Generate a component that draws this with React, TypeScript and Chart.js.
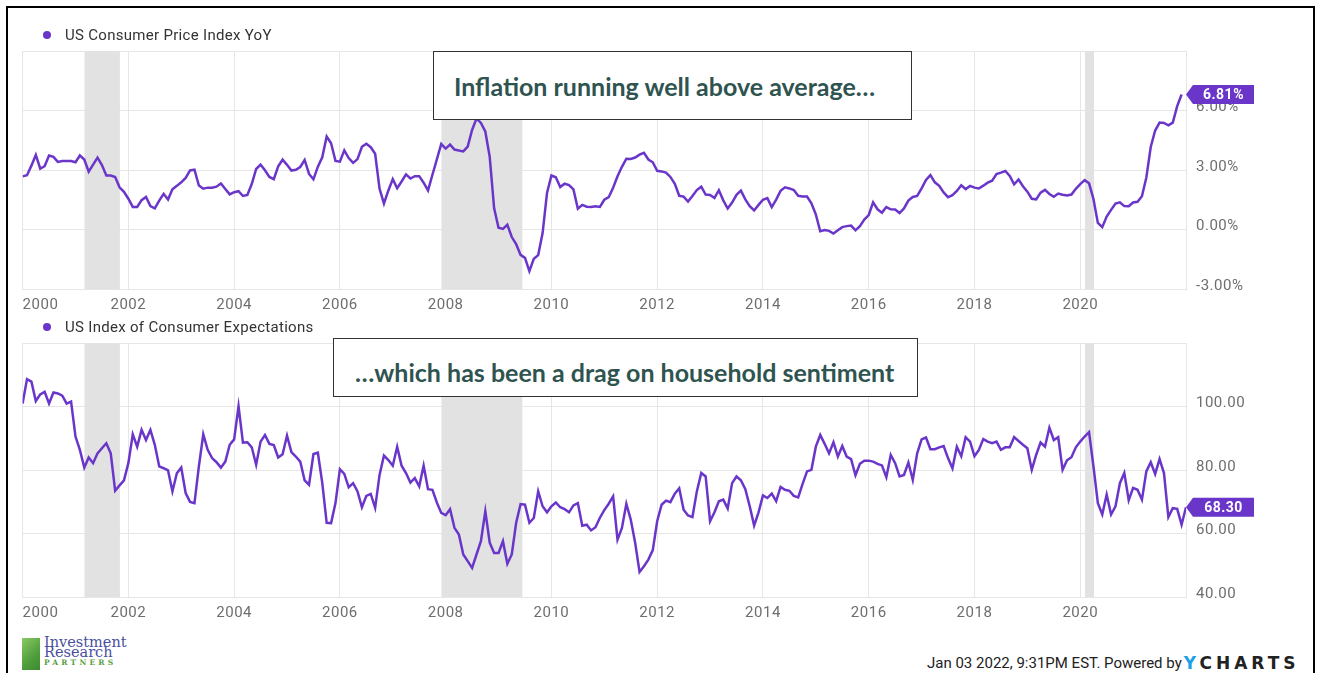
import React, { useEffect, useRef } from 'react';
import { Chart, registerables } from 'chart.js';
Chart.register(...registerables);

// Monthly month-end observations, first point = Dec 31 1999 (x = 2000.0)
const FIRST_POINT_YEAR = 2000;
const X_MIN = 2000;
const X_MAX = 2022;
const X_TICKS = [2000, 2002, 2004, 2006, 2008, 2010, 2012, 2014, 2016, 2018, 2020, 2022];

// US Consumer Price Index YoY (%), Dec 1999 .. Nov 2021
const cpiYoY = [
  2.68,
  2.74, 3.22, 3.76, 3.07, 3.19, 3.73, 3.66, 3.41, 3.45, 3.45, 3.45, 3.39,
  3.73, 3.53, 2.92, 3.27, 3.62, 3.25, 2.72, 2.72, 2.65, 2.13, 1.90, 1.55,
  1.14, 1.14, 1.48, 1.64, 1.18, 1.07, 1.46, 1.80, 1.51, 2.03, 2.20, 2.38,
  2.60, 2.98, 3.02, 2.22, 2.06, 2.11, 2.11, 2.16, 2.32, 2.04, 1.77, 1.88,
  1.93, 1.69, 1.74, 2.29, 3.05, 3.27, 2.99, 2.65, 2.54, 3.19, 3.52, 3.26,
  2.97, 3.01, 3.15, 3.51, 2.80, 2.53, 3.17, 3.64, 4.69, 4.35, 3.46, 3.42,
  3.99, 3.60, 3.36, 3.55, 4.17, 4.32, 4.15, 3.82, 2.06, 1.31, 1.97, 2.54,
  2.08, 2.42, 2.78, 2.57, 2.69, 2.69, 2.36, 1.97, 2.76, 3.54, 4.31, 4.08,
  4.28, 4.03, 3.98, 3.94, 4.18, 5.02, 5.60, 5.37, 4.94, 3.66, 1.07, 0.09,
  0.03, 0.24, -0.38, -0.74, -1.28, -1.43, -2.10, -1.48, -1.29, -0.18, 1.84, 2.72,
  2.63, 2.14, 2.31, 2.24, 2.02, 1.05, 1.24, 1.15, 1.14, 1.17, 1.14, 1.50,
  1.63, 2.11, 2.68, 3.16, 3.57, 3.56, 3.63, 3.77, 3.87, 3.53, 3.39, 2.96,
  2.93, 2.87, 2.65, 2.30, 1.70, 1.66, 1.41, 1.69, 1.99, 2.16, 1.76, 1.74,
  1.59, 1.98, 1.47, 1.06, 1.36, 1.75, 1.96, 1.52, 1.18, 0.96, 1.24, 1.50,
  1.58, 1.13, 1.51, 1.95, 2.13, 2.07, 1.99, 1.70, 1.66, 1.66, 1.32, 0.76,
  -0.09, -0.03, -0.07, -0.20, -0.04, 0.12, 0.17, 0.20, -0.04, 0.17, 0.50, 0.73,
  1.37, 1.02, 0.85, 1.13, 1.02, 1.01, 0.83, 1.06, 1.46, 1.64, 1.69, 2.07,
  2.50, 2.74, 2.38, 2.20, 1.87, 1.63, 1.73, 1.94, 2.23, 2.04, 2.20, 2.11,
  2.07, 2.21, 2.36, 2.46, 2.80, 2.87, 2.95, 2.70, 2.28, 2.52, 2.18, 1.91,
  1.55, 1.52, 1.86, 2.00, 1.79, 1.65, 1.81, 1.75, 1.71, 1.76, 2.05, 2.29,
  2.49, 2.33, 1.54, 0.33, 0.12, 0.65, 0.99, 1.31, 1.37, 1.18, 1.17, 1.36,
  1.40, 1.68, 2.62, 4.16, 4.99, 5.39, 5.37, 5.25, 5.39, 6.22, 6.81,
];

// US Index of Consumer Expectations, Dec 1999 .. Dec 2021
const consumerExpectations = [
  101.0,
  108.7, 107.9, 101.8, 103.9, 104.7, 101.0, 104.5, 104.2, 103.5, 101.0, 101.6, 90.6,
  86.4, 80.8, 84.0, 82.2, 85.3, 86.9, 88.5, 85.3, 73.5, 75.2, 76.8, 82.2,
  91.3, 87.4, 92.7, 89.5, 92.7, 88.0, 81.2, 80.6, 79.9, 73.3, 79.0, 80.8,
  72.8, 70.0, 69.6, 81.2, 91.3, 86.4, 83.8, 82.5, 80.8, 82.7, 88.0, 89.7,
  100.2, 88.7, 88.8, 87.2, 81.7, 89.0, 91.1, 88.3, 87.9, 84.0, 85.0, 90.9,
  85.7, 84.3, 82.7, 76.8, 75.4, 85.1, 85.5, 76.0, 63.4, 63.3, 69.6, 80.3,
  78.8, 74.6, 75.9, 73.3, 68.3, 71.9, 72.5, 68.1, 78.5, 84.6, 83.2, 81.4,
  87.4, 81.4, 79.1, 76.1, 77.5, 74.9, 81.4, 74.0, 73.8, 69.8, 66.5, 65.8,
  67.7, 61.8, 59.7, 53.4, 51.3, 49.2, 53.4, 57.6, 67.0, 57.1, 53.9, 53.9,
  57.6, 50.5, 53.4, 63.4, 69.3, 69.1, 63.4, 64.9, 73.3, 68.6, 66.7, 68.6,
  69.8, 68.3, 67.7, 66.7, 68.9, 69.6, 62.5, 62.8, 61.0, 62.0, 65.0, 67.4,
  69.4, 71.7, 58.1, 61.8, 69.4, 64.4, 57.1, 47.9, 49.7, 51.8, 54.8, 63.9,
  69.1, 70.4, 69.9, 72.6, 74.3, 67.5, 65.7, 65.2, 73.3, 79.1, 78.0, 63.9,
  66.7, 70.2, 70.7, 67.9, 75.9, 78.0, 76.8, 74.0, 68.6, 62.5, 66.7, 72.0,
  71.2, 72.6, 70.2, 74.7, 73.8, 73.5, 71.9, 71.4, 75.7, 79.6, 80.1, 87.4,
  91.1, 88.3, 85.3, 88.8, 84.3, 87.6, 84.3, 83.5, 78.4, 82.0, 83.0, 83.0,
  82.7, 82.0, 81.5, 77.8, 84.8, 82.2, 78.0, 78.5, 82.4, 76.9, 85.3, 89.7,
  90.3, 86.6, 86.6, 87.2, 87.6, 83.8, 80.6, 87.4, 84.4, 90.4, 89.0, 84.4,
  86.4, 89.8, 89.0, 88.5, 89.0, 86.4, 87.2, 87.2, 90.4, 89.2, 88.0, 86.9,
  80.1, 84.8, 88.7, 87.4, 93.4, 89.5, 90.4, 80.1, 83.1, 84.1, 87.2, 89.0,
  90.6, 92.0, 81.2, 69.6, 66.0, 72.3, 66.0, 68.6, 75.9, 79.1, 70.5, 74.4,
  73.8, 70.7, 79.6, 82.5, 78.8, 83.5, 79.1, 65.2, 68.0, 67.8, 62.8, 68.3,
];

// Recession periods (decimal years)
const recessionStarts = [2001.17, 2007.92, 2020.09];
const recessionEnds = [2001.84, 2009.45, 2020.26];

const CPI_TICKS = [-3, 0, 3, 6, 9];
const ICE_TICKS = [40, 60, 80, 100, 120];

const PURPLE = '#6a36c9';
const GRID = '#e6e6e6';
const TICK_COLOR = '#6e6e6e';
const FONT = 'Roboto';

function toPoints(values: number[]) {
  return values.map((v, i) => ({ x: FIRST_POINT_YEAR + i / 12, y: v }));
}

const bandsPlugin = {
  id: 'bands',
  beforeDatasetsDraw(chart: any) {
    const { ctx, chartArea, scales } = chart;
    ctx.save();
    ctx.fillStyle = '#e2e2e2';
    recessionStarts.forEach((s, i) => {
      const x1 = scales.x.getPixelForValue(s);
      const x2 = scales.x.getPixelForValue(recessionEnds[i]);
      ctx.fillRect(x1, chartArea.top, x2 - x1, chartArea.bottom - chartArea.top);
    });
    ctx.restore();
  },
};

const spacingPlugin = {
  id: 'spacing',
  beforeDraw(chart: any) {
    (chart.ctx as any).letterSpacing = '0.5px';
  },
};

function makeTagPlugin(format: (v: number) => string) {
  return {
    id: 'tag',
    afterDraw(chart: any) {
      const { ctx, chartArea, scales } = chart;
      const data = chart.data.datasets[0].data;
      const last = data[data.length - 1];
      const y = scales.y.getPixelForValue(last.y);
      const tip = chartArea.right;
      const bx = tip + 7;
      const bw = 61;
      const bh = 19;
      ctx.save();
      ctx.fillStyle = PURPLE;
      ctx.beginPath();
      ctx.moveTo(tip, y);
      ctx.lineTo(bx, y - bh / 2);
      ctx.lineTo(bx + bw, y - bh / 2);
      ctx.lineTo(bx + bw, y + bh / 2);
      ctx.lineTo(bx, y + bh / 2);
      ctx.closePath();
      ctx.fill();
      (ctx as any).letterSpacing = '0.5px';
      ctx.fillStyle = '#ffffff';
      ctx.font = `bold 14px ${FONT}`;
      ctx.textAlign = 'center';
      ctx.textBaseline = 'middle';
      ctx.fillText(format(last.y), bx + bw / 2, y + 1);
      ctx.restore();
    },
  };
}

function makeConfig(
  values: number[],
  yTicks: number[],
  yFormat: (v: number) => string,
  tagFormat: (v: number) => string,
  padTop: number
): any {
  const yMin = yTicks[0];
  const yMax = yTicks[yTicks.length - 1];
  return {
    type: 'line',
    data: {
      datasets: [
        {
          data: toPoints(values),
          borderColor: PURPLE,
          borderWidth: 2.5,
          pointRadius: 0,
          tension: 0,
          fill: false,
        },
      ],
    },
    options: {
      responsive: false,
      animation: false,
      events: [],
      layout: { padding: { left: 22.6, right: 61, top: padTop, bottom: 0 } },
      plugins: { legend: { display: false }, tooltip: { enabled: false } },
      scales: {
        x: {
          type: 'linear',
          min: X_MIN,
          max: X_MAX,
          afterBuildTicks: (scale: any) => {
            scale.ticks = X_TICKS.map((v) => ({ value: v }));
          },
          afterFit: (scale: any) => {
            scale.height = 26;
          },
          grid: { color: GRID, drawTicks: false, lineWidth: 1 },
          border: { color: GRID },
          ticks: {
            autoSkip: false,
            maxRotation: 0,
            align: 'inner',
            padding: 7,
            color: TICK_COLOR,
            font: { family: FONT, size: 15 },
            callback: (v: number) => (v === X_MAX ? '' : String(v)),
          },
        },
        y: {
          type: 'linear',
          position: 'right',
          min: yMin,
          max: yMax,
          afterBuildTicks: (scale: any) => {
            scale.ticks = yTicks.map((v) => ({ value: v }));
          },
          afterFit: (scale: any) => {
            scale.width = 70;
          },
          grid: { color: GRID, drawTicks: false, lineWidth: 1 },
          border: { color: GRID },
          ticks: {
            padding: 10,
            labelOffset: -3,
            color: TICK_COLOR,
            font: { family: FONT, size: 15 },
            callback: (v: number) => (v === yMax ? '' : yFormat(v)),
          },
        },
      },
    },
    plugins: [spacingPlugin, bandsPlugin, makeTagPlugin(tagFormat)],
  };
}

function LineChart(props: {
  values: number[];
  yTicks: number[];
  yFormat: (v: number) => string;
  tagFormat: (v: number) => string;
  padTop: number;
  top: number;
  height: number;
}) {
  const ref = useRef<HTMLCanvasElement | null>(null);
  useEffect(() => {
    if (!ref.current) return;
    const chart = new Chart(
      ref.current,
      makeConfig(props.values, props.yTicks, props.yFormat, props.tagFormat, props.padTop)
    );
    return () => chart.destroy();
  }, []);
  return (
    <canvas
      ref={ref}
      width={1317}
      height={props.height}
      style={{ position: 'absolute', left: 0, top: props.top, width: 1317, height: props.height }}
    />
  );
}

function Legend(props: { text: string; top: number }) {
  return (
    <div
      style={{
        position: 'absolute',
        left: 43,
        top: props.top - 10,
        height: 20,
        display: 'flex',
        alignItems: 'center',
        fontFamily: FONT,
        fontSize: 15,
        letterSpacing: '0.3px',
        color: '#333',
        whiteSpace: 'nowrap',
      }}
    >
      <span
        style={{
          display: 'inline-block',
          width: 8,
          height: 8,
          borderRadius: 4,
          background: PURPLE,
          marginRight: 14,
        }}
      />
      {props.text}
    </div>
  );
}

function Callout(props: {
  text: string;
  left: number;
  top: number;
  width: number;
  height: number;
  padLeft: number;
  padTop: number;
}) {
  return (
    <div
      style={{
        position: 'absolute',
        left: props.left,
        top: props.top,
        width: props.width,
        height: props.height,
        boxSizing: 'border-box',
        border: '1.5px solid #333',
        background: '#fff',
        display: 'flex',
        alignItems: 'center',
        paddingLeft: props.padLeft,
        paddingTop: props.padTop,
        fontFamily: 'Lato',
        fontWeight: 700,
        fontSize: 25,
        color: '#2f5450',
        whiteSpace: 'nowrap',
      }}
    >
      {props.text}
    </div>
  );
}

export default function App() {
  return (
    <div
      style={{
        position: 'absolute',
        left: 0,
        top: 0,
        width: 1317,
        height: 673,
        overflow: 'hidden',
        background: '#fff',
      }}
    >
      <div
        style={{
          position: 'absolute',
          left: 6,
          top: 6,
          width: 1305,
          height: 700,
          borderLeft: '2px solid #000',
          borderTop: '2px solid #000',
          borderRight: '2.5px solid #000',
        }}
      />
      <LineChart
        values={cpiYoY}
        yTicks={CPI_TICKS}
        yFormat={(v) => v.toFixed(2) + '%'}
        tagFormat={(v) => v.toFixed(2) + '%'}
        padTop={51}
        top={0}
        height={315}
      />
      <LineChart
        values={consumerExpectations}
        yTicks={ICE_TICKS}
        yFormat={(v) => v.toFixed(2)}
        tagFormat={(v) => v.toFixed(2)}
        padTop={27.3}
        top={316}
        height={307}
      />
      <Legend text="US Consumer Price Index YoY" top={35} />
      <Legend text="US Index of Consumer Expectations" top={327} />
      <Callout
        text="Inflation running well above average…"
        left={433}
        top={51}
        width={479}
        height={69}
        padLeft={20}
        padTop={0}
      />
      <Callout
        text="…which has been a drag on household sentiment"
        left={333}
        top={338}
        width={585}
        height={59}
        padLeft={21}
        padTop={8}
      />
      {/* Logo */}
      <div
        style={{
          position: 'absolute',
          left: 22,
          top: 638,
          width: 18,
          height: 32,
          background: 'linear-gradient(135deg, #8cc864 0%, #4f9e3c 60%, #3d8a30 100%)',
        }}
      />
      <div
        style={{
          position: 'absolute',
          left: 44,
          top: 637,
          fontFamily: 'DejaVu Serif',
          fontSize: 14.5,
          lineHeight: '10px',
          color: '#4a4f9e',
          whiteSpace: 'nowrap',
        }}
      >
        <div>Investment</div>
        <div>Research</div>
        <div
          style={{
            fontFamily: 'DejaVu Serif',
            fontSize: 7.5,
            fontWeight: 700,
            letterSpacing: '3.2px',
            color: '#5aa040',
            lineHeight: '11px',
          }}
        >
          PARTNERS
        </div>
      </div>
      {/* Footer */}
      <div
        style={{
          position: 'absolute',
          left: 927,
          top: 653,
          height: 20,
          display: 'flex',
          alignItems: 'center',
          fontFamily: FONT,
          fontSize: 15,
          color: '#222',
          whiteSpace: 'nowrap',
        }}
      >
        <span>Jan 03 2022, 9:31PM EST. Powered by</span>
        <span
          style={{
            marginLeft: 2,
            fontFamily: 'DejaVu Sans',
            fontWeight: 700,
            fontSize: 17,
            letterSpacing: '4px',
            color: '#222',
          }}
        >
          <span style={{ color: '#1ea0e6' }}>Y</span>CHARTS
        </span>
      </div>
    </div>
  );
}
